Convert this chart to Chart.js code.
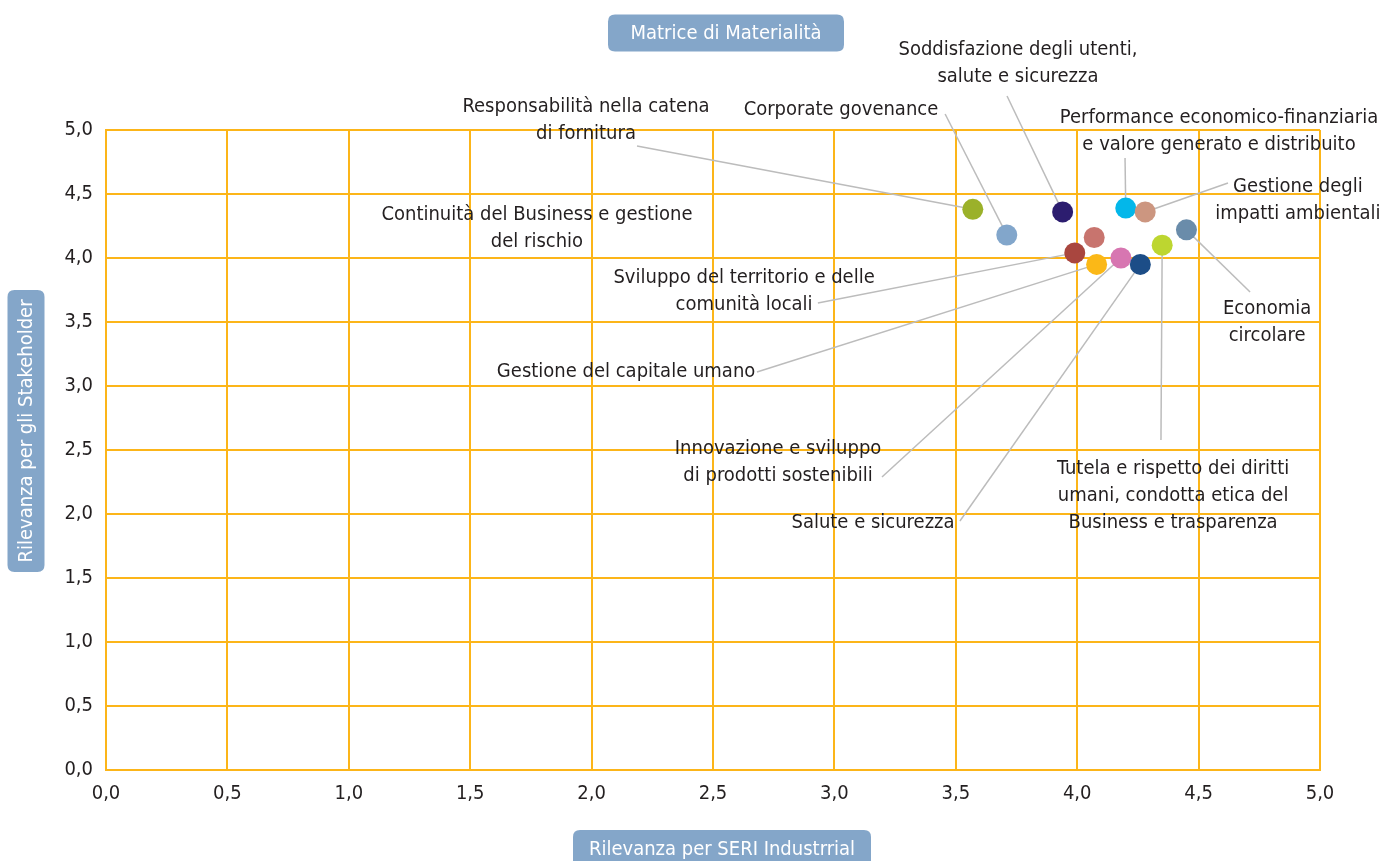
<!DOCTYPE html>
<html lang="it">
<head>
<meta charset="utf-8">
<title>Matrice di Materialità</title>
<script src="https://cdn.jsdelivr.net/npm/chart.js@4"></script>
<style>
    html, body { margin: 0; padding: 0; background: #ffffff; }
    #wrap { width: 1380px; height: 861px; position: relative; }
</style>
</head>
<body>
<div id="wrap"><canvas id="matrix" width="1380" height="861"></canvas></div>
<script>
/* ============================
   Data
   ============================ */

const topics = [
    'Responsabilità nella catena di fornitura',
    'Corporate govenance',
    'Soddisfazione degli utenti, salute e sicurezza',
    'Performance economico-finanziaria e valore generato e distribuito',
    'Gestione degli impatti ambientali',
    'Economia circolare',
    'Continuità del Business e gestione del rischio',
    'Sviluppo del territorio e delle comunità locali',
    'Gestione del capitale umano',
    'Innovazione e sviluppo di prodotti sostenibili',
    'Salute e sicurezza',
    'Tutela e rispetto dei diritti umani, condotta etica del Business e trasparenza'
];

// Rilevanza per SERI Industrrial (x)
const industrial = [3.57, 3.71, 3.94, 4.20, 4.28, 4.45, 4.07, 3.99, 4.08, 4.18, 4.26, 4.35];
// Rilevanza per gli Stakeholder (y)
const stakeholder = [4.38, 4.18, 4.36, 4.39, 4.36, 4.22, 4.16, 4.04, 3.95, 4.00, 3.95, 4.10];

const tickValues = [0, 0.5, 1, 1.5, 2, 2.5, 3, 3.5, 4, 4.5, 5];

/* ============================
   Styling / layout
   ============================ */

const dotColors = [
    '#9bb12a', '#82a6cb', '#2c1d6f', '#03b7ea', '#cc9680', '#6a8caa',
    '#c8746e', '#a9463f', '#fbb817', '#d776b1', '#1c4d87', '#bdd630'
];

const GRID = '#fcb519';
const INK = '#231f20';
const LEADER = '#bcbcbc';
const PILL = '#84a6c9';
const FONT = '"Liberation Sans Narrow", "Arial Narrow", "DejaVu Sans Condensed", sans-serif';

// Callout text blocks: text centre and leader start in chart units
const callouts = [
    { lines: ['Responsabilità nella catena', 'di fornitura'], tx: 1.977, ty: 5.18, lx: 2.187, ly: 4.875 },
    { lines: ['Corporate govenance'], tx: 3.027, ty: 5.156, lx: 3.456, ly: 5.125 },
    { lines: ['Soddisfazione degli utenti,', 'salute e sicurezza'], tx: 3.756, ty: 5.625, lx: 3.711, ly: 5.266 },
    { lines: ['Performance economico-finanziaria', 'e valore generato e distribuito'], tx: 4.584, ty: 5.094, lx: 4.197, ly: 4.781 },
    { lines: ['Gestione degli', 'impatti ambientali'], tx: 4.909, ty: 4.555, lx: 4.621, ly: 4.586 },
    { lines: ['Economia', 'circolare'], tx: 4.782, ty: 3.602, lx: 4.712, ly: 3.734 },
    { lines: ['Continuità del Business e gestione', 'del rischio'], tx: 1.775, ty: 4.336 },
    { lines: ['Sviluppo del territorio e delle', 'comunità locali'], tx: 2.628, ty: 3.844, lx: 2.932, ly: 3.648 },
    { lines: ['Gestione del capitale umano'], tx: 2.142, ty: 3.109, lx: 2.681, ly: 3.109 },
    { lines: ['Innovazione e sviluppo', 'di prodotti sostenibili'], tx: 2.768, ty: 2.508, lx: 3.196, ly: 2.289 },
    { lines: ['Salute e sicurezza'], tx: 3.159, ty: 1.930, lx: 3.517, ly: 1.945 },
    { lines: ['Tutela e rispetto dei diritti', 'umani, condotta etica del', 'Business e trasparenza'], tx: 4.395, ty: 2.352, lx: 4.345, ly: 2.578 }
];

const fmt = v => v.toFixed(1).replace('.', ',');

function roundRect(ctx, x, y, w, h, r) {
    ctx.beginPath();
    ctx.moveTo(x + r, y);
    ctx.lineTo(x + w - r, y);
    ctx.quadraticCurveTo(x + w, y, x + w, y + r);
    ctx.lineTo(x + w, y + h - r);
    ctx.quadraticCurveTo(x + w, y + h, x + w - r, y + h);
    ctx.lineTo(x + r, y + h);
    ctx.quadraticCurveTo(x, y + h, x, y + h - r);
    ctx.lineTo(x, y + r);
    ctx.quadraticCurveTo(x, y, x + r, y);
    ctx.closePath();
}

// Leader lines go under the dots, text on top of the grid
const calloutPlugin = {
    id: 'callouts',
    beforeDatasetsDraw(chart) {
        const { ctx, scales: { x, y } } = chart;
        ctx.save();
        ctx.strokeStyle = LEADER;
        ctx.lineWidth = 1.5;
        callouts.forEach((c, i) => {
            if (c.lx === undefined) return;
            ctx.beginPath();
            ctx.moveTo(x.getPixelForValue(c.lx), y.getPixelForValue(c.ly));
            ctx.lineTo(x.getPixelForValue(industrial[i]), y.getPixelForValue(stakeholder[i]));
            ctx.stroke();
        });
        ctx.restore();
    },
    afterDatasetsDraw(chart) {
        const { ctx, scales: { x, y } } = chart;
        ctx.save();
        ctx.fillStyle = INK;
        ctx.font = `20px ${FONT}`;
        ctx.textAlign = 'center';
        ctx.textBaseline = 'middle';
        callouts.forEach(c => {
            const cx = x.getPixelForValue(c.tx);
            const cy = y.getPixelForValue(c.ty);
            c.lines.forEach((line, k) => ctx.fillText(line, cx, cy + k * 27));
        });
        ctx.restore();
    }
};

// Rounded blue labels: title and axis names
const pillPlugin = {
    id: 'pills',
    afterDraw(chart) {
        const { ctx, chartArea: a } = chart;
        ctx.save();
        ctx.font = `20px ${FONT}`;
        ctx.textAlign = 'center';
        ctx.textBaseline = 'middle';

        const pill = (text, cx, cy, w, h, rotate) => {
            ctx.save();
            ctx.translate(cx, cy);
            if (rotate) ctx.rotate(-Math.PI / 2);
            ctx.fillStyle = PILL;
            roundRect(ctx, -w / 2, -h / 2, w, h, 7);
            ctx.fill();
            ctx.fillStyle = '#ffffff';
            ctx.fillText(text, 0, 1);
            ctx.restore();
        };

        pill('Matrice di Materialità', a.left + 620, a.top - 97, 236, 37, false);
        pill('Rilevanza per SERI Industrrial', a.left + 616, a.bottom + 79, 298, 38, false);
        pill('Rilevanza per gli Stakeholder', a.left - 80, a.top + 301, 282, 37, true);
        ctx.restore();
    }
};

const tickFont = { family: FONT, size: 20 };

new Chart(document.getElementById('matrix'), {
    type: 'scatter',
    data: {
        datasets: [{
            label: 'Temi materiali',
            data: topics.map((t, i) => ({ x: industrial[i], y: stakeholder[i] })),
            backgroundColor: dotColors,
            borderColor: dotColors,
            borderWidth: 0,
            pointRadius: 10.5,
            pointHoverRadius: 10.5
        }]
    },
    options: {
        responsive: false,
        animation: false,
        devicePixelRatio: 1,
        layout: { padding: { top: 130, right: 60, left: 0, bottom: 0 } },
        plugins: {
            legend: { display: false },
            tooltip: { enabled: false }
        },
        scales: {
            x: {
                type: 'linear',
                min: 0,
                max: 5,
                afterBuildTicks: s => { s.ticks = tickValues.map(v => ({ value: v })); },
                afterFit: s => { s.height = 91; },
                ticks: { color: INK, font: tickFont, padding: 12, callback: v => fmt(v), maxRotation: 0 },
                grid: { color: GRID, lineWidth: 2, drawTicks: false },
                border: { color: GRID, width: 2 }
            },
            y: {
                type: 'linear',
                min: 0,
                max: 5,
                afterBuildTicks: s => { s.ticks = tickValues.map(v => ({ value: v })); },
                afterFit: s => { s.width = 106; },
                ticks: { color: INK, font: tickFont, padding: 13, callback: v => fmt(v) },
                grid: { color: GRID, lineWidth: 2, drawTicks: false },
                border: { color: GRID, width: 2 }
            }
        }
    },
    plugins: [calloutPlugin, pillPlugin]
});
</script>
</body>
</html>
